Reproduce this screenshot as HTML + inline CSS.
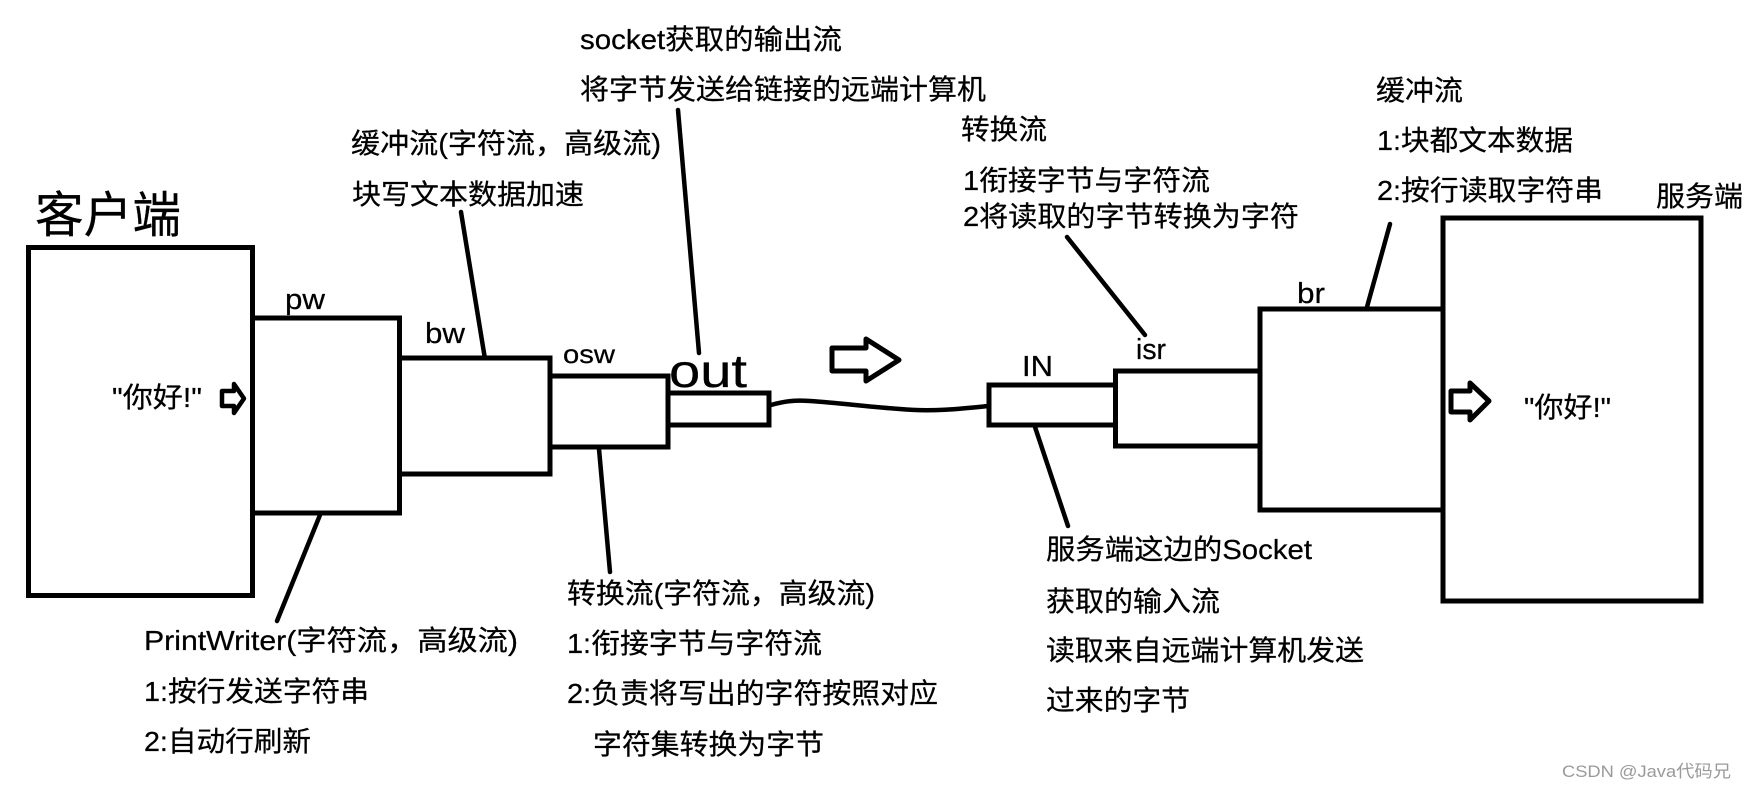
<!DOCTYPE html>
<html lang="zh">
<head>
<meta charset="utf-8">
<title>Socket streams</title>
<style>
html,body{margin:0;padding:0;background:#fff;width:1747px;height:790px;overflow:hidden}
svg{display:block}
text{font-family:"Liberation Sans","Noto Sans CJK SC",sans-serif;font-size:28px;fill:#000;stroke:#000;stroke-width:.25}
.b{fill:none;stroke:#000;stroke-width:5}
.l{fill:none;stroke:#000;stroke-width:4.5;stroke-linecap:round}
</style>
</head>
<body>
<svg width="1747" height="790" viewBox="0 0 1747 790" xmlns="http://www.w3.org/2000/svg">
<rect width="1747" height="790" fill="#fff"/>

<!-- boxes -->
<rect class="b" x="28.5" y="247.5" width="224" height="348"/>
<rect class="b" x="252.5" y="318" width="147" height="195"/>
<rect class="b" x="399.5" y="358" width="150.5" height="116"/>
<rect class="b" x="550" y="376" width="118" height="71"/>
<rect class="b" x="668" y="393" width="101" height="32"/>
<rect class="b" x="989" y="385" width="126.5" height="40"/>
<rect class="b" x="1115.5" y="371" width="144.5" height="75"/>
<rect class="b" x="1260" y="309" width="183" height="201"/>
<rect class="b" x="1443" y="218" width="258" height="383"/>

<!-- leader lines -->
<path class="l" d="M461 212 L484.5 356"/>
<path class="l" d="M678 110 L699 353"/>
<path class="l" d="M320 515 L277 621"/>
<path class="l" d="M599 449 L610 572"/>
<path class="l" d="M1035 427 L1068 526"/>
<path class="l" d="M1067 237 L1145 335"/>
<path class="l" d="M1390 224 L1367 307"/>

<!-- cable -->
<path class="l" style="stroke-linecap:butt" d="M771 405 C785 401 795 400 810 401 C840 403 870 407 900 409 C930 412 960 409 988 406"/>

<!-- block arrows -->
<polygon class="b" style="stroke-width:4.5;stroke-linejoin:round" points="222,391 234,391 234,384 244,398.5 234,413 234,406 222,406"/>
<polygon class="b" style="stroke-linejoin:round" points="832,348 866,348 866,339 899,360 866,381 866,371 832,371"/>
<polygon class="b" style="stroke-linejoin:round" points="1451,391 1470,391 1470,383 1489,401 1470,420 1470,412 1451,412"/>

<!-- labels -->
<text x="35" y="232" style="font-size:49px" textLength="146" lengthAdjust="spacingAndGlyphs">客户端</text>
<text x="285" y="309" style="font-size:29px" textLength="40" lengthAdjust="spacingAndGlyphs">pw</text>
<text x="425" y="343" style="font-size:29px" textLength="40" lengthAdjust="spacingAndGlyphs">bw</text>
<text x="563" y="363" style="font-size:26px" textLength="52" lengthAdjust="spacingAndGlyphs">osw</text>
<text x="669" y="387" style="font-size:46px" textLength="78" lengthAdjust="spacingAndGlyphs">out</text>
<text x="1022" y="376" style="font-size:29px" textLength="31" lengthAdjust="spacingAndGlyphs">IN</text>
<text x="1136" y="359" style="font-size:29px" textLength="30" lengthAdjust="spacingAndGlyphs">isr</text>
<text x="1297" y="303" style="font-size:29px" textLength="28" lengthAdjust="spacingAndGlyphs">br</text>
<text x="1656" y="206" textLength="87" lengthAdjust="spacingAndGlyphs">服务端</text>
<text x="112" y="407" textLength="90" lengthAdjust="spacingAndGlyphs">"你好!"</text>
<text x="1524" y="417" textLength="87" lengthAdjust="spacingAndGlyphs">"你好!"</text>

<text x="580" y="49" textLength="262" lengthAdjust="spacingAndGlyphs">socket获取的输出流</text>
<text x="580" y="99" textLength="406" lengthAdjust="spacingAndGlyphs">将字节发送给链接的远端计算机</text>
<text x="351" y="153" textLength="310" lengthAdjust="spacingAndGlyphs">缓冲流(字符流，高级流)</text>
<text x="352" y="204" textLength="232" lengthAdjust="spacingAndGlyphs">块写文本数据加速</text>
<text x="961" y="139" textLength="86" lengthAdjust="spacingAndGlyphs">转换流</text>
<text x="963" y="190" textLength="247" lengthAdjust="spacingAndGlyphs">1衔接字节与字符流</text>
<text x="963" y="226" textLength="336" lengthAdjust="spacingAndGlyphs">2将读取的字节转换为字符</text>
<text x="1376" y="100" textLength="87" lengthAdjust="spacingAndGlyphs">缓冲流</text>
<text x="1377" y="150" textLength="196" lengthAdjust="spacingAndGlyphs">1:块都文本数据</text>
<text x="1377" y="200" textLength="226" lengthAdjust="spacingAndGlyphs">2:按行读取字符串</text>

<text x="144" y="650" textLength="374" lengthAdjust="spacingAndGlyphs">PrintWriter(字符流，高级流)</text>
<text x="144" y="701" textLength="225" lengthAdjust="spacingAndGlyphs">1:按行发送字符串</text>
<text x="144" y="751" textLength="167" lengthAdjust="spacingAndGlyphs">2:自动行刷新</text>

<text x="567" y="603" textLength="308" lengthAdjust="spacingAndGlyphs">转换流(字符流，高级流)</text>
<text x="567" y="653" textLength="255" lengthAdjust="spacingAndGlyphs">1:衔接字节与字符流</text>
<text x="567" y="703" textLength="371" lengthAdjust="spacingAndGlyphs">2:负责将写出的字符按照对应</text>
<text x="593" y="754" textLength="231" lengthAdjust="spacingAndGlyphs">字符集转换为字节</text>

<text x="1046" y="559" textLength="266" lengthAdjust="spacingAndGlyphs">服务端这边的Socket</text>
<text x="1046" y="611" textLength="174" lengthAdjust="spacingAndGlyphs">获取的输入流</text>
<text x="1046" y="660" textLength="318" lengthAdjust="spacingAndGlyphs">读取来自远端计算机发送</text>
<text x="1046" y="710" textLength="144" lengthAdjust="spacingAndGlyphs">过来的字节</text>

<text x="1562" y="777" style="font-size:17px;fill:#9a9a9a;stroke:none" textLength="169" lengthAdjust="spacingAndGlyphs">CSDN @Java代码兄</text>
</svg>
</body>
</html>
